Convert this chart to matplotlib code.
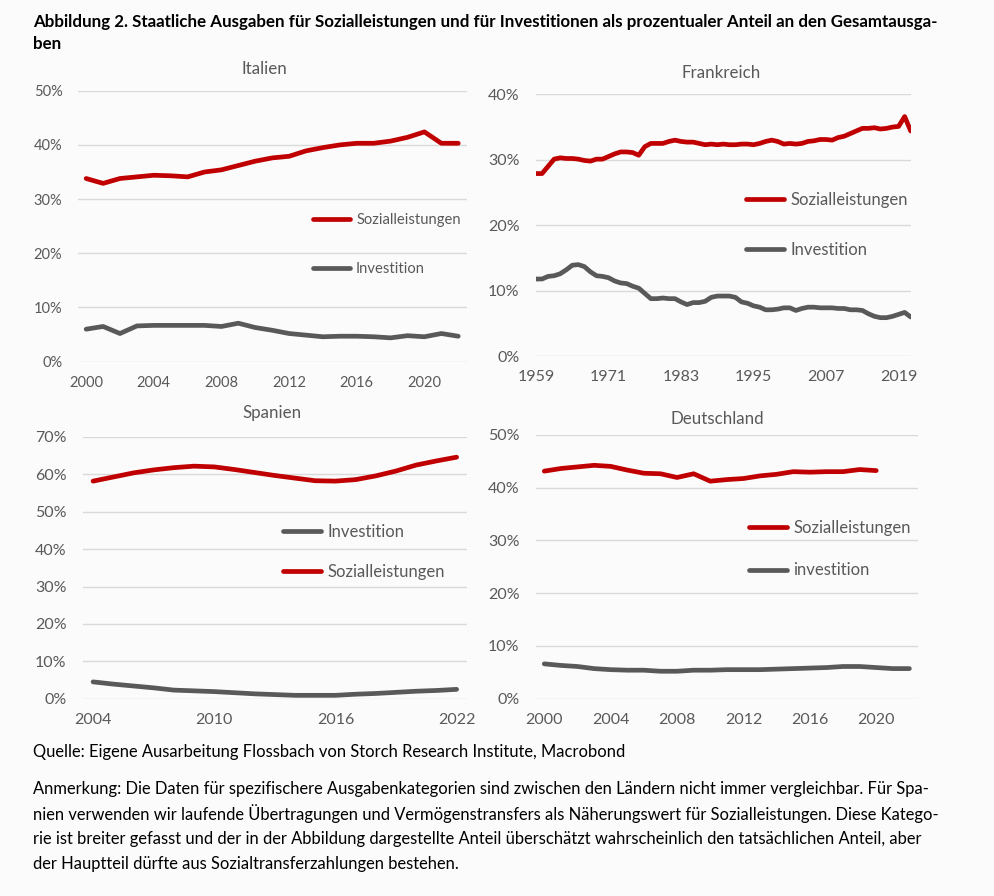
import matplotlib
matplotlib.use('Agg')
import matplotlib.pyplot as plt
from matplotlib.ticker import FuncFormatter

plt.rcParams['font.family'] = ['Lato', 'DejaVu Sans']

red = '#C00000'
grey = '#595959'
gridc = '#D9D9D9'
txtc = '#595959'

# Italien
it_years = list(range(2000, 2023))
it_sozial = [33.8, 32.9, 33.8, 34.1, 34.4, 34.3, 34.1, 35.0, 35.4, 36.2, 37.0, 37.6,
             37.9, 38.9, 39.5, 40.0, 40.3, 40.3, 40.7, 41.4, 42.4, 40.3, 40.3]
it_invest = [6.0, 6.5, 5.2, 6.6, 6.7, 6.7, 6.7, 6.7, 6.5, 7.1, 6.3, 5.8,
             5.2, 4.9, 4.6, 4.7, 4.7, 4.6, 4.4, 4.8, 4.6, 5.2, 4.7]

# Frankreich
fr_years = list(range(1959, 2022))
fr_sozial = [27.9, 27.9, 29.0, 30.1, 30.3, 30.2, 30.2, 30.1, 29.9, 29.8, 30.1, 30.1,
             30.5, 30.9, 31.2, 31.2, 31.1, 30.7, 32.0, 32.5, 32.5, 32.5, 32.8, 33.0,
             32.8, 32.7, 32.7, 32.5, 32.3, 32.4, 32.3, 32.4, 32.3, 32.3, 32.4, 32.4,
             32.3, 32.5, 32.8, 33.0, 32.8, 32.4, 32.5, 32.4, 32.5, 32.8, 32.9, 33.1,
             33.1, 33.0, 33.4, 33.6, 34.0, 34.4, 34.8, 34.8, 34.9, 34.7, 34.8, 35.0,
             35.1, 36.6, 34.4]
fr_invest = [11.8, 11.8, 12.2, 12.3, 12.6, 13.2, 13.9, 14.0, 13.7, 12.9, 12.3, 12.2,
             12.0, 11.5, 11.2, 11.1, 10.7, 10.4, 9.6, 8.8, 8.8, 8.9, 8.8, 8.8,
             8.3, 7.9, 8.2, 8.2, 8.4, 9.0, 9.2, 9.2, 9.2, 9.0, 8.3, 8.1,
             7.7, 7.5, 7.1, 7.1, 7.2, 7.4, 7.4, 7.0, 7.3, 7.5, 7.5, 7.4,
             7.4, 7.4, 7.3, 7.3, 7.1, 7.1, 7.0, 6.5, 6.1, 5.9, 5.9, 6.1,
             6.4, 6.7, 6.0]

# Spanien
es_years = list(range(2004, 2023))
es_sozial = [58.2, 59.3, 60.4, 61.2, 61.8, 62.2, 62.0, 61.3, 60.5, 59.7, 59.0, 58.3,
             58.2, 58.6, 59.6, 60.9, 62.5, 63.6, 64.6]
es_invest = [4.5, 3.9, 3.4, 2.9, 2.3, 2.1, 1.9, 1.6, 1.3, 1.1, 0.9, 0.9,
             0.9, 1.2, 1.4, 1.7, 2.0, 2.2, 2.5]

# Deutschland
de_years_s = list(range(2000, 2021))
de_sozial = [43.1, 43.6, 43.9, 44.2, 44.0, 43.3, 42.7, 42.6, 41.9, 42.6, 41.2, 41.5,
             41.7, 42.2, 42.5, 43.0, 42.9, 43.0, 43.0, 43.4, 43.2]
de_years_i = list(range(2000, 2023))
de_invest = [6.6, 6.3, 6.1, 5.7, 5.5, 5.4, 5.4, 5.2, 5.2, 5.4, 5.4, 5.5,
             5.5, 5.5, 5.6, 5.7, 5.8, 5.9, 6.1, 6.1, 5.9, 5.7, 5.7]

W, H = 995, 896
fig = plt.figure(figsize=(W / 100, H / 100), dpi=100)
fig.patch.set_facecolor('#FBFBFB')


def px_axes(x0, x1, ytop, ybot):
    return fig.add_axes([x0 / W, 1 - ybot / H, (x1 - x0) / W, (ybot - ytop) / H])


def style(ax, ymax, xticks, xlim, fs, ypad):
    ax.set_facecolor('none')
    for s in ax.spines.values():
        s.set_visible(False)
    ax.set_ylim(0, ymax)
    ax.set_yticks(range(0, ymax + 1, 10))
    ax.yaxis.set_major_formatter(FuncFormatter(lambda v, p: f'{v:.0f}%'))
    ax.set_xticks(xticks)
    ax.set_xlim(*xlim)
    ax.grid(axis='y', color=gridc, lw=1.0)
    ax.set_axisbelow(True)
    ax.tick_params(length=0, labelsize=fs, colors=txtc)
    ax.tick_params(axis='y', pad=ypad)
    ax.tick_params(axis='x', pad=10)


def line(ax, x, y, c, lab):
    return ax.plot(x, y, color=c, lw=3.4, solid_capstyle='round',
                   solid_joinstyle='round', label=lab)[0]


def leg(ax, handles, anchor, fs, spacing, hl):
    ax.legend(handles=handles, loc='center left', bbox_to_anchor=anchor,
              frameon=False, fontsize=fs, handlelength=hl, handletextpad=0.4,
              borderpad=0, borderaxespad=0, labelspacing=spacing,
              labelcolor=txtc)


# Italien
ax = px_axes(77.7, 466.7, 90.7, 361.7)
style(ax, 50, range(2000, 2021, 4), (1999.5, 2022.5), 10.5, 11)
s = line(ax, it_years, it_sozial, red, 'Sozialleistungen')
i = line(ax, it_years, it_invest, grey, 'Investition')
leg(ax, [s, i], (0.604, 0.4325), 10.6, 2.4, 2.55)
ax.text(0.479, 1.08, 'Italien', transform=ax.transAxes, ha='center', va='center',
        fontsize=12.2, color=txtc)

# Frankreich
ax = px_axes(536, 910.7, 94.3, 356.3)
style(ax, 40, range(1959, 2020, 12), (1959, 2021), 11.5, 12)
s = line(ax, fr_years, fr_sozial, red, 'Sozialleistungen')
i = line(ax, fr_years, fr_invest, grey, 'Investition')
leg(ax, [s, i], (0.561, 0.501), 12, 2.07, 2.25)
ax.text(0.493, 1.081, 'Frankreich', transform=ax.transAxes, ha='center', va='center',
        fontsize=12.2, color=txtc)

# Spanien
ax = px_axes(83, 466.7, 437, 698.7)
style(ax, 70, range(2004, 2023, 6), (2003.5, 2022.5), 11.5, 12)
s = line(ax, es_years, es_sozial, red, 'Sozialleistungen')
i = line(ax, es_years, es_invest, grey, 'Investition')
leg(ax, [i, s], (0.522, 0.5606), 12, 1.44, 2.25)
ax.text(0.492, 1.092, 'Spanien', transform=ax.transAxes, ha='center', va='center',
        fontsize=12.2, color=txtc)

# Deutschland
ax = px_axes(536, 917.7, 434.7, 698.7)
style(ax, 50, range(2000, 2021, 4), (1999.5, 2022.5), 11.5, 12)
s = line(ax, de_years_s, de_sozial, red, 'Sozialleistungen')
i = line(ax, de_years_i, de_invest, grey, 'investition')
leg(ax, [s, i], (0.559, 0.567), 12, 1.61, 2.25)
ax.text(0.474, 1.059, 'Deutschland', transform=ax.transAxes, ha='center', va='center',
        fontsize=12.2, color=txtc)

# Texte
fig.text(33 / W, 1 - 22 / H, 'Abbildung 2. Staatliche Ausgaben für Sozialleistungen und für '
         'Investitionen als prozentualer Anteil an den Gesamtausga-',
         fontsize=12.2, fontweight='bold', va='center', ha='left')
fig.text(33 / W, 1 - 44 / H, 'ben', fontsize=12.2, fontweight='bold', va='center', ha='left')

fig.text(33 / W, 1 - 752 / H, 'Quelle: Eigene Ausarbeitung Flossbach von Storch Research '
         'Institute, Macrobond', fontsize=11.9, va='center', ha='left')
notes = [
    'Anmerkung: Die Daten für spezifischere Ausgabenkategorien sind zwischen den Ländern '
    'nicht immer vergleichbar. Für Spa-',
    'nien verwenden wir laufende Übertragungen und Vermögenstransfers als Näherungswert '
    'für Sozialleistungen. Diese Katego-',
    'rie ist breiter gefasst und der in der Abbildung dargestellte Anteil überschätzt '
    'wahrscheinlich den tatsächlichen Anteil, aber',
    'der Hauptteil dürfte aus Sozialtransferzahlungen bestehen.',
]
for k, t in enumerate(notes):
    fig.text(33 / W, 1 - (789 + 25 * k) / H, t, fontsize=11.9, va='center', ha='left')

fig.savefig('out.png', dpi=100, facecolor=fig.get_facecolor())
